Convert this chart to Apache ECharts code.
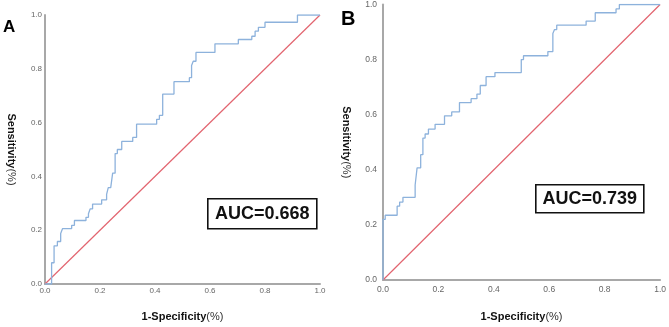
<!DOCTYPE html>
<html>
<head>
<meta charset="utf-8">
<script src="https://cdn.jsdelivr.net/npm/echarts@6/dist/echarts.min.js"></script>
<style>
  html, body { margin: 0; padding: 0; background: #fff; }
  #chart { width: 669px; height: 327px; }
</style>
</head>
<body>
<div id="chart"></div>
<script>
// ROC points (x = 1-specificity, y = sensitivity)
const rocA_fpr = [0, 0.024, 0.033, 0.045, 0.057, 0.064, 0.097, 0.107, 0.149, 0.158, 0.164, 0.173, 0.206, 0.224, 0.230, 0.239, 0.246, 0.255, 0.263, 0.279, 0.319, 0.333, 0.406, 0.416, 0.428, 0.469, 0.525, 0.533, 0.539, 0.549, 0.618, 0.703, 0.752, 0.764, 0.776, 0.800, 0.918, 1.0];
const rocA_tpr = [0, 0.079, 0.142, 0.158, 0.188, 0.206, 0.218, 0.236, 0.248, 0.261, 0.279, 0.297, 0.313, 0.333, 0.358, 0.364, 0.412, 0.485, 0.500, 0.530, 0.545, 0.594, 0.612, 0.627, 0.706, 0.752, 0.767, 0.812, 0.828, 0.861, 0.893, 0.909, 0.921, 0.940, 0.954, 0.973, 1.0, 1.0];

const rocB_fpr = [0, 0, 0.008, 0.051, 0.060, 0.072, 0.116, 0.123, 0.136, 0.144, 0.152, 0.164, 0.188, 0.222, 0.248, 0.276, 0.318, 0.339, 0.351, 0.372, 0.404, 0.499, 0.507, 0.595, 0.613, 0.619, 0.627, 0.733, 0.766, 0.841, 0.853, 1.0];
const rocB_tpr = [0, 0.220, 0.235, 0.268, 0.283, 0.300, 0.345, 0.407, 0.455, 0.515, 0.530, 0.548, 0.565, 0.596, 0.610, 0.644, 0.658, 0.675, 0.706, 0.738, 0.753, 0.800, 0.814, 0.829, 0.895, 0.909, 0.925, 0.940, 0.970, 0.984, 1.0, 1.0];

const refLine = [[0, 0], [1, 1]];
const panelLabels = ['A', 'B'];
const aucLabels = ['AUC=0.668', 'AUC=0.739'];
const xTitle = '1-Specificity';
const yTitle = 'Sensitivity';

const FONT = '"Liberation Sans", Arial, sans-serif';
const curveColor = '#8db2dc';
const diagColor = '#e2646f';
const axisColor = '#a8a8a8';

function pairs(xs, ys) {
  return xs.map((x, i) => [x, ys[i]]);
}

function makeX(gridIndex, gap, margin, size) {
  return {
    type: 'value', gridIndex: gridIndex, min: 0, max: 1, interval: 0.2,
    name: '{b|' + xTitle + '}{n|(%)}', nameLocation: 'middle', nameGap: gap,
    nameTextStyle: {
      rich: {
        b: { fontFamily: FONT, fontSize: 11, fontWeight: 'bold', color: '#111' },
        n: { fontFamily: FONT, fontSize: 11, color: '#333' }
      }
    },
    axisLine: { show: true, lineStyle: { color: axisColor, width: 2 } },
    axisTick: { show: false },
    splitLine: { show: false },
    axisLabel: { fontFamily: FONT, fontSize: size, color: '#666', margin: margin, formatter: v => v.toFixed(1) }
  };
}

function makeY(gridIndex, gap, margin, size) {
  return {
    type: 'value', gridIndex: gridIndex, min: 0, max: 1, interval: 0.2,
    name: '{b|' + yTitle + '}{n|(%)}', nameLocation: 'middle', nameGap: gap, nameRotate: -90,
    nameTextStyle: {
      rich: {
        b: { fontFamily: FONT, fontSize: 11, fontWeight: 'bold', color: '#111' },
        n: { fontFamily: FONT, fontSize: 11, color: '#333' }
      }
    },
    axisLine: { show: true, lineStyle: { color: axisColor, width: 2 } },
    axisTick: { show: false },
    splitLine: { show: false },
    axisLabel: { fontFamily: FONT, fontSize: size, color: '#666', margin: margin, formatter: v => v.toFixed(1) }
  };
}

function aucBox(x, y, w, h, text) {
  return {
    type: 'group', left: x, top: y,
    children: [
      { type: 'rect', shape: { x: 0, y: 0, width: w, height: h }, style: { fill: '#fff', stroke: '#111', lineWidth: 1.6 } },
      { type: 'text', x: w / 2, y: h / 2, style: { text: text, font: 'bold 18px ' + FONT, fill: '#111', align: 'center', verticalAlign: 'middle' } }
    ]
  };
}

const chart = echarts.init(document.getElementById('chart'));

const option = {
  animation: false,
  backgroundColor: '#fff',
  grid: [
    { left: 45, top: 15, width: 275, height: 275 },
    { left: 383, top: 4, width: 278, height: 279 }
  ],
  xAxis: [makeX(0, 27, 3, 8), makeX(1, 31, 5, 8.5)],
  yAxis: [makeY(0, 28, 3, 8), makeY(1, 31, 6, 8.5)],
  series: [
    {
      type: 'line', xAxisIndex: 0, yAxisIndex: 0, data: refLine, showSymbol: false,
      lineStyle: { color: diagColor, width: 1.2 }, z: 2
    },
    {
      type: 'line', xAxisIndex: 0, yAxisIndex: 0, data: pairs(rocA_fpr, rocA_tpr), step: 'end', showSymbol: false,
      lineStyle: { color: curveColor, width: 1.3 }, z: 3
    },
    {
      type: 'line', xAxisIndex: 1, yAxisIndex: 1, data: refLine, showSymbol: false,
      lineStyle: { color: diagColor, width: 1.2 }, z: 2
    },
    {
      type: 'line', xAxisIndex: 1, yAxisIndex: 1, data: pairs(rocB_fpr, rocB_tpr), step: 'end', showSymbol: false,
      lineStyle: { color: curveColor, width: 1.3 }, z: 3
    }
  ],
  graphic: [
    { type: 'text', left: 3, top: 19, style: { text: panelLabels[0], font: 'bold 17px ' + FONT, fill: '#000' } },
    { type: 'text', left: 341, top: 9, style: { text: panelLabels[1], font: 'bold 20px ' + FONT, fill: '#000' } },
    aucBox(207, 198, 109, 30, aucLabels[0]),
    aucBox(535, 184, 108, 28, aucLabels[1])
  ]
};

chart.setOption(option);
</script>
</body>
</html>
